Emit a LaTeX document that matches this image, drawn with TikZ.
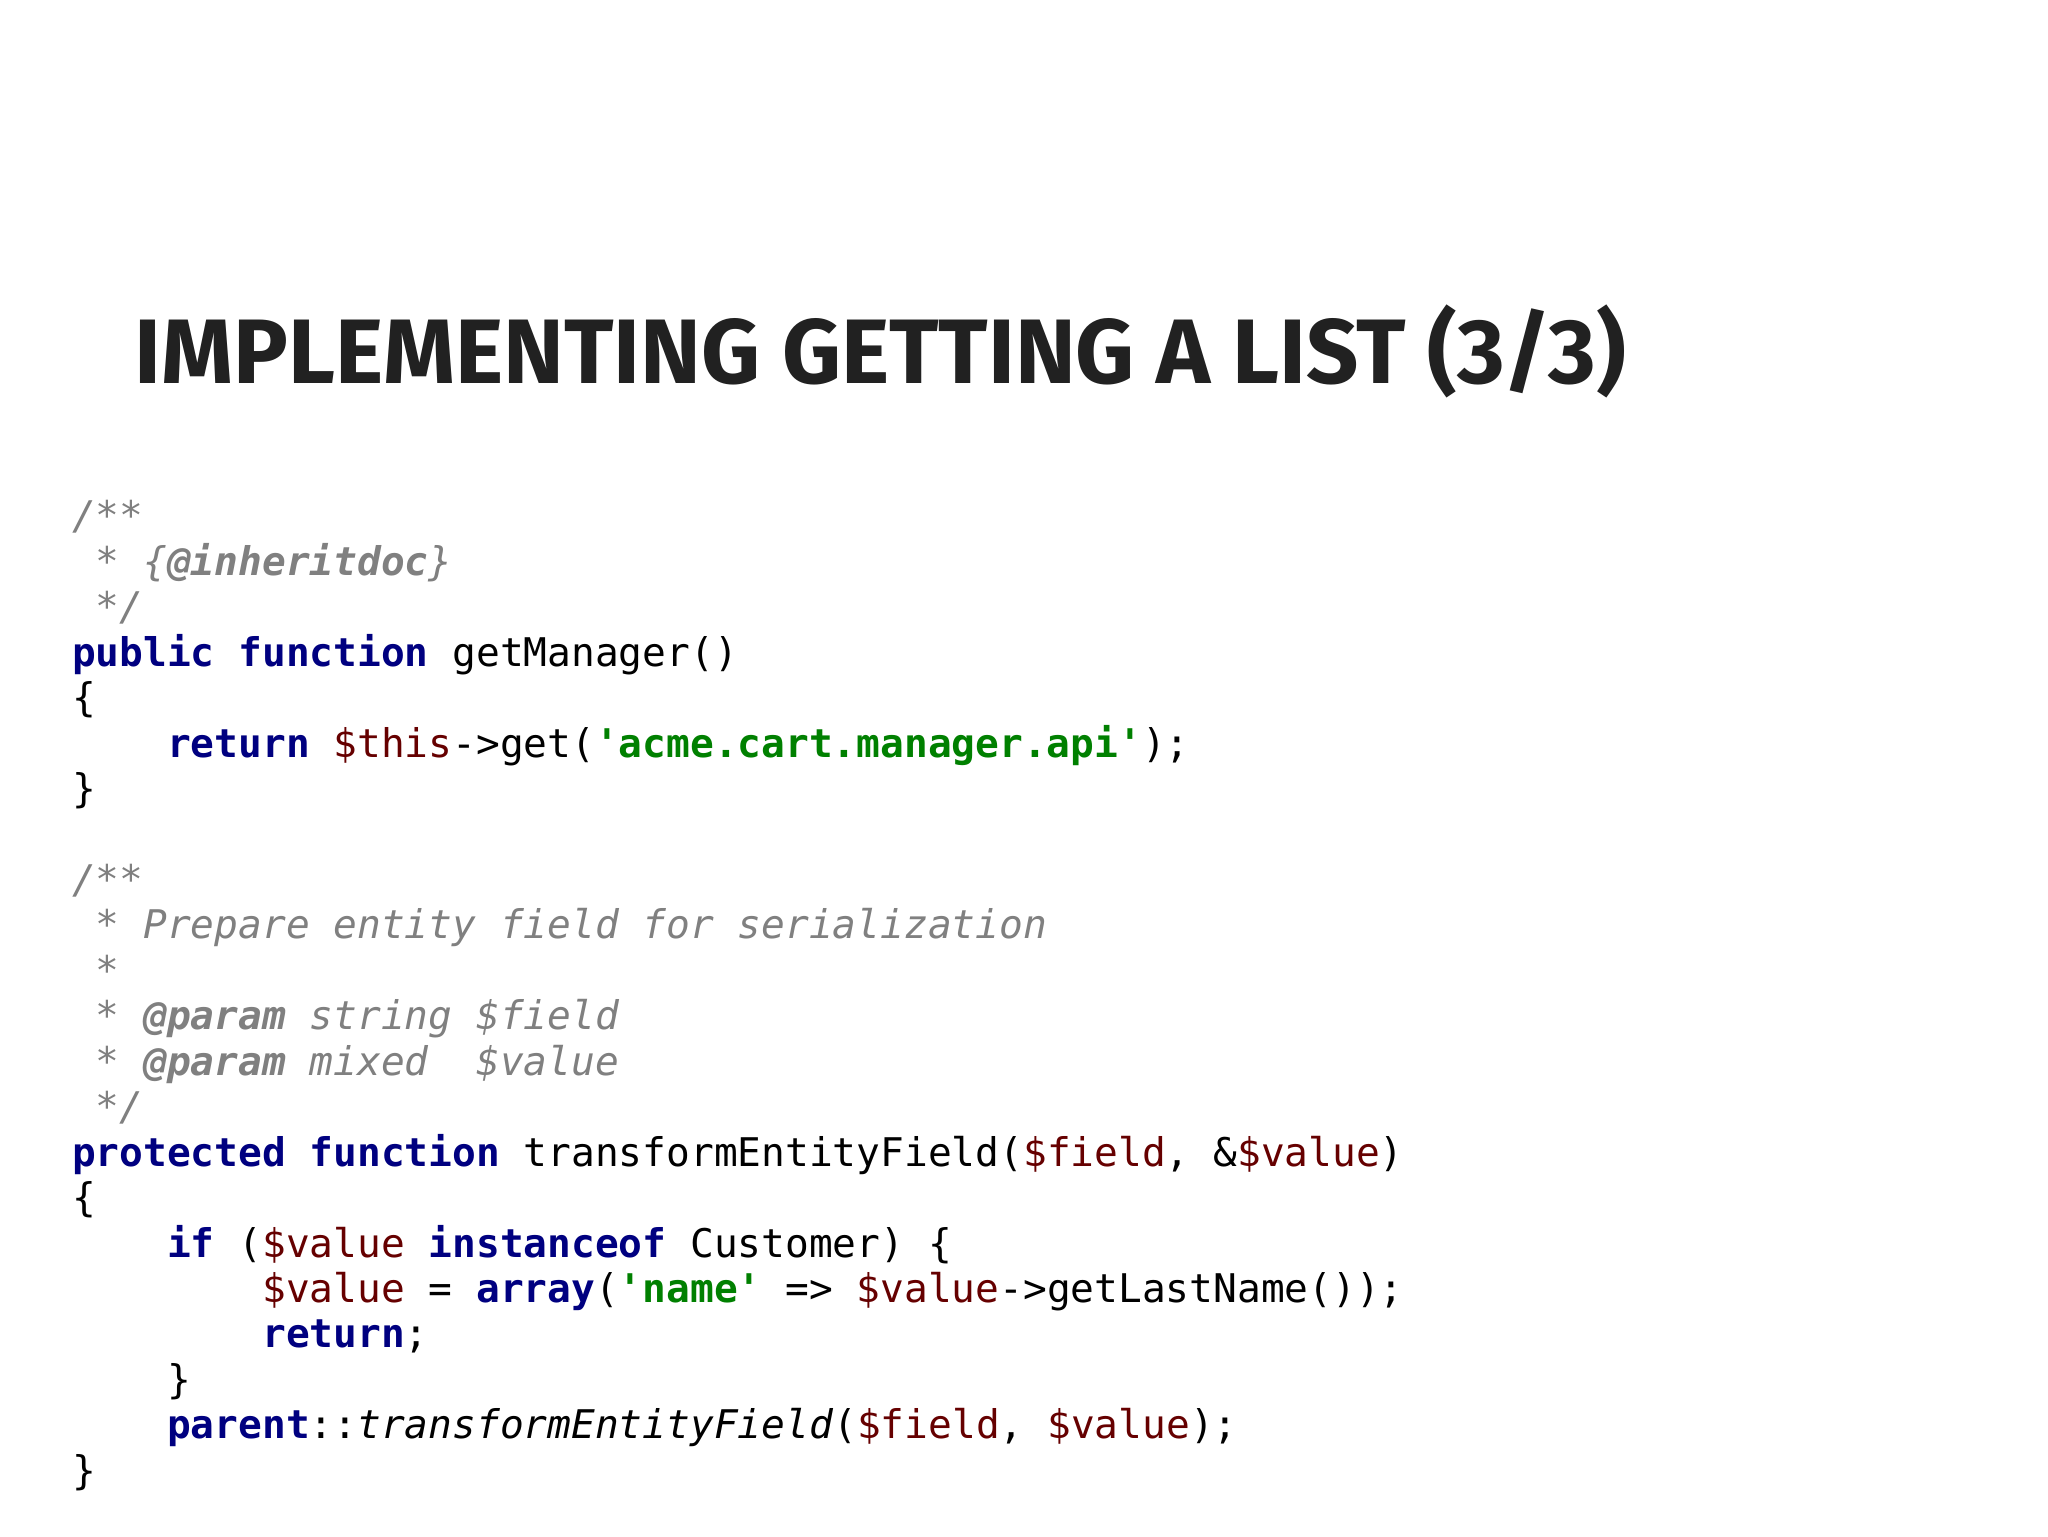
\documentclass[tikz,border=0pt]{standalone}
\usepackage{fontspec}
\newfontfamily\code{DejaVu Sans Mono}
\newfontfamily\titlefont{Fira Sans}
\definecolor{kw}{HTML}{000080}
\definecolor{vr}{HTML}{660000}
\definecolor{st}{HTML}{008000}
\definecolor{cm}{HTML}{808080}
\newcommand{\K}[1]{\textcolor{kw}{\bfseries #1}}
\newcommand{\V}[1]{\textcolor{vr}{#1}}
\newcommand{\Sg}[1]{\textcolor{st}{\bfseries #1}}
\newcommand{\C}[1]{\textcolor{cm}{\itshape #1}}
\newcommand{\CB}[1]{\textcolor{cm}{\bfseries\itshape #1}}
\tikzset{codeline/.style={anchor=base west,inner sep=0pt,font=\code\fontsize{19.75}{22}\selectfont,text=black}}
\begin{document}
\begin{tikzpicture}[x=1pt,y=1pt]
\useasboundingbox[fill=white] (0,0) rectangle (1024,768);
\node[anchor=base west,inner sep=0pt,text=black!87,font=\titlefont\bfseries\fontsize{45.8}{50}\selectfont] (title) at (67,576) {IMPLEMENTING GETTING A LIST (3/3)};
\def\ls{22.72}
\foreach \i/\t in {
0/{\C{/**}},
1/{\C{~*~\{}\CB{@inheritdoc}\C{\}}},
2/{\C{~*/}},
3/{\K{public}~\K{function}~getManager()},
4/{\{},
5/{~~~~\K{return}~\V{\$this}->get(\Sg{'acme.cart.manager.api'});},
6/{\}},
8/{\C{/**}},
9/{\C{~*~Prepare~entity~field~for~serialization}},
10/{\C{~*}},
11/{\C{~*~}\CB{@param}\C{~string~\$field}},
12/{\C{~*~}\CB{@param}\C{~mixed~~\$value}},
13/{\C{~*/}},
14/{\K{protected}~\K{function}~transformEntityField(\V{\$field},~\&\V{\$value})},
15/{\{},
16/{~~~~\K{if}~(\V{\$value}~\K{instanceof}~Customer)~\{},
17/{~~~~~~~~\V{\$value}~=~\K{array}(\Sg{'name'}~=>~\V{\$value}->getLastName());},
18/{~~~~~~~~\K{return};},
19/{~~~~\}},
20/{~~~~\K{parent}::\textit{transformEntityField}(\V{\$field},~\V{\$value});},
21/{\}}}
  \node[codeline] (l\i) at (35.8,503-\i*\ls) {\t};
\end{tikzpicture}
\end{document}
